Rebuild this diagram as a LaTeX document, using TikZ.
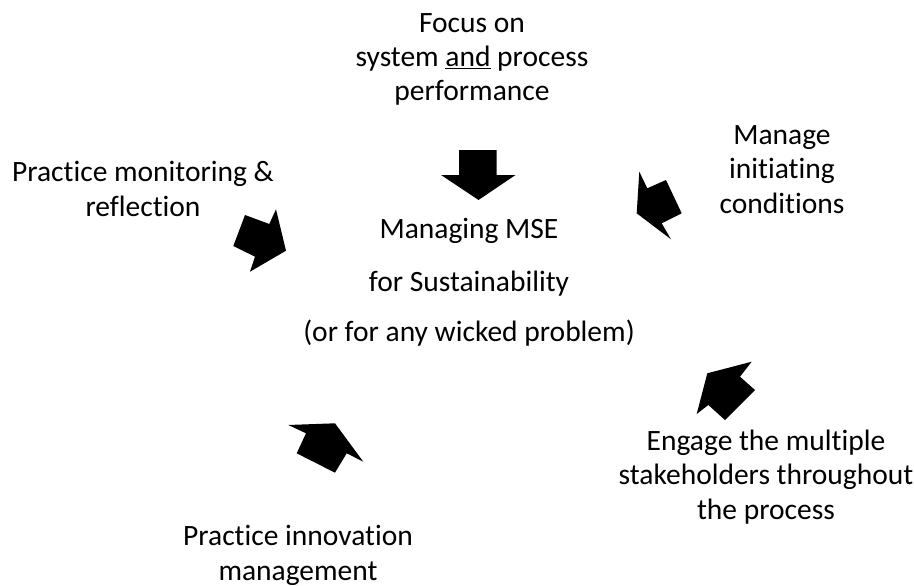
\documentclass[tikz,border=0pt]{standalone}
\usepackage{fontspec}
\setmainfont{Carlito}[RawFeature={-liga,-clig,-dlig}]
\begin{document}
\begin{tikzpicture}[x=1pt,y=-1pt,
  lbl/.style={inner sep=0pt,align=center,font=\fontsize{29.5}{34.5}\selectfont,anchor=base},
  blk/.style={fill=black,draw=none}]
\useasboundingbox (0,0) rectangle (914,586);
% labels (anchor = baseline of last line)
\node[lbl] (top) at (472,101) {Focus on\\system \underline{and} process\\performance};
\node[lbl] (right) at (782,213) {Manage\\initiating\\conditions};
\node[lbl] (left) at (143,216) {Practice monitoring \&\\reflection};
\node[lbl] (centre) at (469,341) {Managing MSE\\[18.5pt]for Sustainability\\[15.5pt](or for any wicked problem)};
\node[lbl] (bright) at (766,519) {Engage the multiple\\stakeholders throughout\\the process};
\node[lbl] (bleft) at (298,580) {Practice innovation\\management};
% block arrows
\fill[blk] (459,150) -- (496.5,150) -- (496.5,175) -- (515.5,175) -- (478.5,200) -- (441,175) -- (459,175) -- cycle;
\fill[blk] (639.3,171.7) -- (647.3,188.3) -- (666,180) -- (681.7,213.3) -- (661.7,223.3) -- (671,239.3) -- (636.7,213.3) -- cycle;
\fill[blk] (245,215) -- (269.3,224) -- (276,209.3) -- (286,250.7) -- (250,271.7) -- (255,256.7) -- (233.3,246) -- cycle;
\fill[blk] (288.3,425) -- (335,423.3) -- (363.3,461.7) -- (346.7,453.3) -- (335,472.7) -- (296.7,453.3) -- (306,433.3) -- cycle;
\fill[blk] (751.7,361.7) -- (707.3,373.3) -- (696.7,414) -- (708.3,405) -- (725,420) -- (755,390) -- (740,376.7) -- cycle;
\end{tikzpicture}
\end{document}
